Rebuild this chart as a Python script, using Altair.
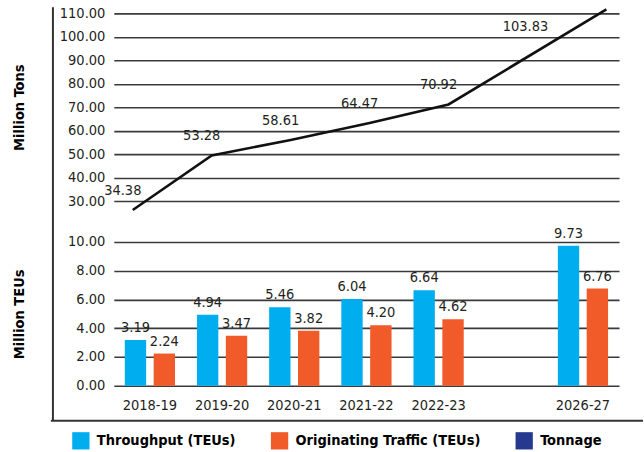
import altair as alt
import pandas as pd

# ---- data ----
years = ["2018-19", "2019-20", "2020-21", "2021-22", "2022-23", "2026-27"]
x_domain = ["2018-19", "2019-20", "2020-21", "2021-22", "2022-23", " ", "2026-27"]
tonnage = [34.38, 53.28, 58.61, 64.47, 70.92, 103.83]
throughput = [3.19, 4.94, 5.46, 6.04, 6.64, 9.73]
originating = [2.24, 3.47, 3.82, 4.20, 4.62, 6.76]
series_names = ["Throughput (TEUs)", "Originating Traffic (TEUs)", "Tonnage"]
series_colors = ["#00AEEF", "#F15A29", "#27398F"]
tons_ticks = [30, 40, 50, 60, 70, 80, 90, 100, 110]
teu_ticks = [0, 2, 4, 6, 8, 10]

FONT = "DejaVu Sans Condensed, DejaVu Sans, sans-serif"
TXT = "#231F20"
GRID = "#3a3a3a"
W = 506
FS = 14.5

line_df = pd.DataFrame({"year": years, "tons": tonnage})
bar_df = pd.DataFrame({
    "year": years * 2,
    "series": [series_names[0]] * len(years) + [series_names[1]] * len(years),
    "value": throughput + originating,
})
ticks_df = pd.DataFrame({"v": tons_ticks})

# ---- top panel: tonnage line ----
grid_top = alt.Chart(ticks_df).mark_point(opacity=0).encode(
    y=alt.Y("v:Q", scale=alt.Scale(domain=[30, 110], nice=False, zero=False),
            axis=alt.Axis(values=tons_ticks, format=".2f", title="Million Tons",
                          titleX=-87, titleBaseline="bottom"))
)
xl = alt.X("year:N", scale=alt.Scale(type="point", domain=x_domain, padding=0.2, align=0.6), axis=None)
yl = alt.Y("tons:Q", scale=alt.Scale(domain=[37.49, 102.45], nice=False, zero=False), axis=None)
line = alt.Chart(line_df).mark_line(color="#111111", strokeWidth=2.6).encode(x=xl, y=yl)
line_lab = alt.Chart(line_df).transform_filter(alt.datum.year != "2026-27").mark_text(
    baseline="bottom", align="center", dx=-10, dy=-12, fontSize=FS, font=FONT, color=TXT
).encode(x=xl, y=yl, text=alt.Text("tons:Q", format=".2f"))
line_lab_last = alt.Chart(line_df).transform_filter(alt.datum.year == "2026-27").mark_text(
    baseline="bottom", align="center", dx=-81, dy=25, fontSize=FS, font=FONT, color=TXT
).encode(x=xl, y=yl, text=alt.Text("tons:Q", format=".2f"))

top = alt.layer(grid_top, line, line_lab, line_lab_last).resolve_scale(
    y="independent", x="independent"
).properties(width=W, height=188)

# ---- bottom panel: TEU bars ----
xb = alt.X("year:N", scale=alt.Scale(domain=x_domain, paddingInner=0, paddingOuter=0),
           axis=alt.Axis(title=None, labelAngle=0, labelPadding=13))
xo = alt.XOffset("series:N", scale=alt.Scale(domain=series_names[:2], paddingInner=0.26, paddingOuter=0.38))
yb = alt.Y("value:Q", scale=alt.Scale(domain=[0, 10], nice=False),
           axis=alt.Axis(values=teu_ticks, format=".2f", title="Million TEUs",
                         titleX=-87, titleBaseline="bottom"))
bars = alt.Chart(bar_df).mark_bar().encode(
    x=xb, xOffset=xo, y=yb,
    color=alt.Color("series:N", scale=alt.Scale(domain=series_names, range=series_colors),
                    legend=alt.Legend(title=None, orient="none", direction="horizontal",
                                      legendX=-42, legendY=419, symbolType="square",
                                      symbolSize=300, symbolStrokeWidth=0, labelFontSize=14.5,
                                      labelFontWeight="bold", labelOffset=7, columnPadding=34,
                                      labelLimit=300, values=series_names)),
)
bar_lab = alt.Chart(bar_df).mark_text(
    baseline="bottom", align="center", dy=-5, fontSize=FS, font=FONT, color=TXT
).encode(x=xb, xOffset=xo, y=yb, text=alt.Text("value:Q", format=".2f"))

one = pd.DataFrame({"k": [0]})
frame_left = alt.Chart(one).mark_rule(color="#333333", strokeWidth=2).encode(
    x=alt.value(-61), y=alt.value(-235), y2=alt.value(179))
frame_bottom = alt.Chart(one).mark_rule(color="#333333", strokeWidth=2).encode(
    x=alt.value(-63), x2=alt.value(530), y=alt.value(179))

bottom = alt.layer(bars, bar_lab, frame_left, frame_bottom).properties(width=W, height=144)

chart = alt.vconcat(top, bottom, spacing=41, bounds="flush").properties(
    padding={"left": 11, "top": 3, "right": 0, "bottom": 0}
).configure_view(stroke=None).configure_axis(
    labelFont=FONT, labelFontSize=FS, labelColor=TXT, titleFont=FONT, titleFontSize=14.5,
    titleFontWeight="bold", titleColor="#000000", domain=False, ticks=False,
    labelPadding=9, gridColor=GRID, gridWidth=1.6, gridOpacity=1
).configure_legend(labelFont=FONT, labelColor="#000000")

chart.save("out.html", embed_options={"renderer": "svg", "actions": False})
